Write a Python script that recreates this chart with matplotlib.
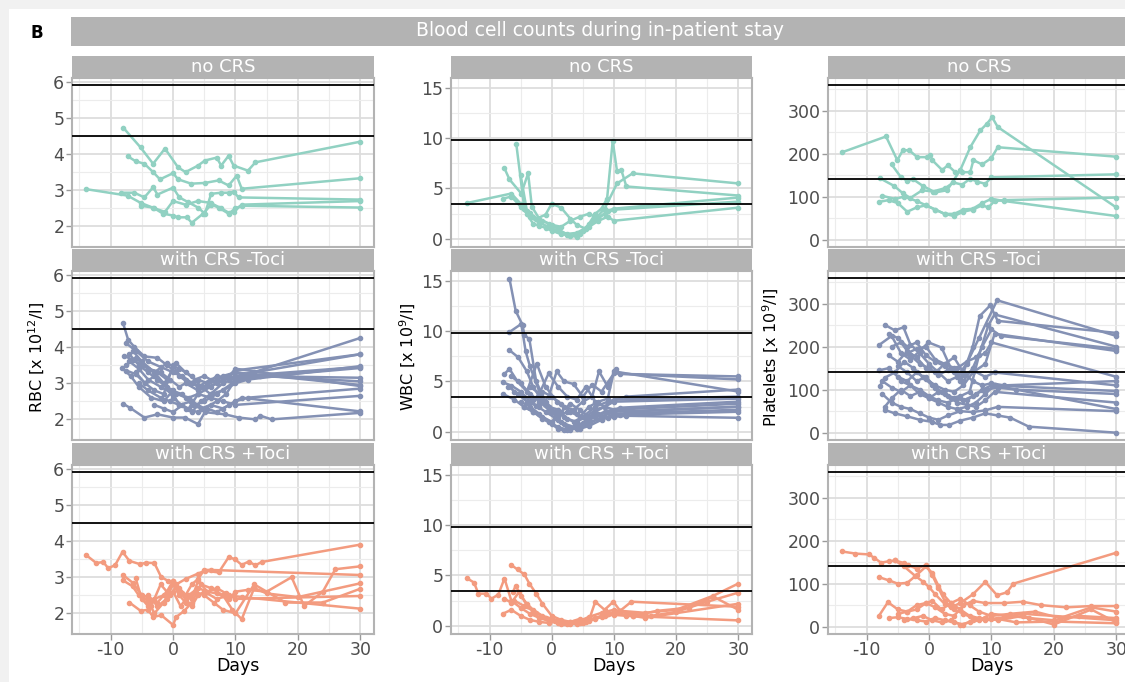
import matplotlib
matplotlib.use("Agg")
import matplotlib.pyplot as plt
from matplotlib.patches import Rectangle
from matplotlib.ticker import FixedLocator

plt.rcParams["font.family"] = ["DejaVu Sans"]
plt.rcParams["axes.unicode_minus"] = False

# ---------------------------------------------------------------- data
groups = ["no CRS", "with CRS -Toci", "with CRS +Toci"]
group_colors = ["#91D1C2", "#8491B4", "#F39B7F"]
measures = ["RBC", "WBC", "Platelets"]
measure_labels = [r"RBC [x 10$^{12}$/l]", r"WBC [x 10$^{9}$/l]", r"Platelets [x 10$^{9}$/l]"]
ref_rbc = [4.5, 5.9]
ref_wbc = [3.5, 9.8]
ref_plt = [140, 360]

# RBC, no CRS
rbc_no_crs_days = [
    [-14, -7.3, -5.2, -3, -1.3, 0, 2, 4, 6, 7.7, 8.9, 9.7, 11, 30],
    [-8, -5.2, -3.2, -1.3, 0.8, 2, 4, 5.1, 7, 7.7, 8.9, 9.7, 12, 13.2, 30],
    [-7.3, -6, -4.6, -3.2, -2.1, 0, 0.8, 2.9, 5.1, 7.3, 8.9, 10.2, 11, 30],
    [-8.3, -6.2, -4.6, -3.2, -2.5, 0, 1, 2.4, 4, 5.1, 6.1, 7.7, 9, 9.7, 10.5, 30],
    [-5.2, -3.2, -1.6, 0, 0.8, 2.2, 3, 4.8, 6.1, 7.3, 8.9, 10, 11, 30],
]
rbc_no_crs_vals = [
    [3.03, 2.85, 2.65, 2.5, 2.4, 2.7, 2.6, 2.7, 2.65, 2.5, 2.38, 2.4, 2.6, 2.7],
    [4.73, 4.18, 3.73, 4.15, 3.63, 3.5, 3.68, 3.82, 3.9, 3.68, 3.95, 3.68, 3.54, 3.77, 4.34],
    [3.94, 3.8, 3.73, 3.5, 3.3, 3.47, 3.3, 3.18, 3.2, 3.27, 3.13, 3.4, 3.04, 3.33],
    [2.93, 2.93, 2.8, 3.08, 2.88, 3.07, 2.8, 2.67, 2.52, 2.35, 2.9, 2.93, 2.93, 2.96, 2.8, 2.74],
    [2.57, 2.52, 2.35, 2.3, 2.25, 2.25, 2.1, 2.35, 2.6, 2.52, 2.35, 2.5, 2.57, 2.52],
]

# RBC, with CRS -Toci
rbc_minus_days = [
    [-8, -7.2, -6.2, -4.6, -2.5, -1, 0.5, 2, 4, 6, 8, 10, 12, 30],
    [-7.5, -6, -4, -2, 0, 1.5, 3, 5, 7, 9, 10, 30],
    [-7.8, -6.5, -5, -3, -1, 1, 3, 4.5, 6, 8, 11, 30],
    [-8.2, -6.8, -5.5, -3.5, -1.5, 0, 2, 3.5, 5, 7, 9.5, 12, 30],
    [-7, -5.5, -4, -2, 0, 1, 3, 5, 7, 8.5, 10, 14, 30],
    [-7.5, -6, -4.5, -3, -1, 0.5, 2.5, 4, 6, 8, 10, 30],
    [-8, -6.9, -4.6, -2.5, 0, 1.9, 4, 5.1, 8.3, 10.5, 13.2, 14, 15.8, 30],
    [-6.5, -5, -3, -1.5, 0, 2, 4, 5.5, 7, 9, 11, 30],
    [-7, -5.5, -4, -2.5, -0.5, 1.5, 3, 4.5, 6, 8, 10, 12, 30],
    [-6, -4.5, -3, -1.5, 0, 1, 2.5, 4, 5.5, 7, 9, 11, 30],
    [-5.5, -4, -2, -0.5, 1, 2.5, 4, 6, 8, 10, 30],
    [-4, -2.5, -1, 0.5, 2, 3.5, 5, 7, 9, 10, 30],
    [-3, -1.5, 0, 1.5, 3, 4.5, 6, 8, 10, 12, 30],
    [-7.5, -6, -4, -2, -0.5, 1, 2, 4, 7, 10, 13, 30],
]
rbc_minus_vals = [
    [4.65, 4.2, 4.0, 3.74, 3.7, 3.5, 3.3, 3.1, 2.9, 3.1, 3.2, 3.3, 3.25, 4.25],
    [4.1, 3.9, 3.6, 3.45, 3.3, 3.2, 3.0, 2.9, 3.1, 3.2, 3.35, 3.8],
    [3.75, 3.65, 3.5, 3.3, 3.55, 3.4, 3.2, 2.9, 2.7, 3.0, 3.2, 3.45],
    [3.42, 3.2, 2.9, 2.6, 2.5, 2.8, 2.6, 2.4, 2.5, 2.7, 3.0, 3.15, 3.42],
    [3.6, 3.4, 3.1, 2.9, 2.7, 2.4, 2.5, 2.3, 2.5, 2.7, 3.1, 3.2, 3.05],
    [3.35, 3.25, 3.0, 3.2, 2.9, 2.7, 2.6, 2.7, 2.9, 3.1, 3.3, 2.95],
    [2.43, 2.32, 2.05, 2.14, 2.05, 2.05, 1.87, 2.2, 2.14, 2.05, 2.0, 2.1, 2.0, 2.18],
    [3.9, 3.6, 3.3, 3.0, 2.6, 2.3, 2.2, 2.3, 2.2, 2.4, 2.6, 2.22],
    [3.8, 3.5, 3.3, 3.1, 2.8, 2.7, 2.4, 2.3, 2.4, 2.3, 2.5, 2.6, 2.85],
    [3.3, 3.0, 2.8, 2.7, 3.5, 3.2, 3.0, 3.1, 3.0, 3.2, 3.1, 3.2, 3.15],
    [3.0, 2.8, 2.6, 2.5, 2.4, 2.3, 2.7, 2.6, 2.5, 2.4, 2.65],
    [3.4, 3.3, 3.1, 3.55, 3.3, 3.1, 3.2, 3.0, 3.2, 3.4, 2.92],
    [2.4, 2.3, 2.2, 2.4, 2.2, 2.5, 2.7, 2.8, 3.0, 3.1, 3.47],
    [3.5, 3.7, 3.4, 3.3, 3.1, 2.9, 3.0, 2.8, 3.0, 3.2, 3.3, 3.8],
]

# RBC, with CRS +Toci
rbc_plus_days = [
    [-14, -12.3, -11.2, -10.4, -9.3, -8.1, -7, -5.3, -4.3, -3, -1.9, -0.8, 0.5, 2, 4,
     5.1, 7.3, 8.9, 9.9, 11, 12.1, 13.2, 14.2, 30],
    [-8.1, -6.5, -5, -4, -2.5, -1, 0, 1, 2, 3, 4, 5, 6, 30],
    [-8.1, -6.5, -5.5, -4, -3, -1.5, 0, 1.2, 2.5, 4, 5.5, 7, 9, 10, 12, 15, 19, 21, 24, 26, 30],
    [-7, -5.2, -4, -3.2, -1.9, 0, 0.5, 1.8, 3, 4.5, 6, 8, 9.5, 11, 13, 15, 20, 30],
    [-6, -5.2, -4, -3, -1.5, 0, 1, 2, 3.5, 5, 6.5, 8, 10, 13, 18, 24, 30],
    [-5, -3.5, -2, -0.5, 0.5, 1.5, 3, 4, 5.5, 7, 8.5, 10, 30],
    [-4, -2.5, -1, 0, 1, 2, 3, 4, 5, 7, 9, 11, 30],
]
rbc_plus_vals = [
    [3.62, 3.39, 3.42, 3.25, 3.33, 3.7, 3.45, 3.36, 3.4, 3.39, 3.0, 2.9, 2.8, 2.95, 3.1,
     3.18, 3.13, 3.55, 3.5, 3.34, 3.43, 3.33, 3.42, 3.9],
    [3.07, 2.85, 2.5, 2.45, 2.3, 2.6, 2.9, 2.7, 2.5, 2.8, 2.95, 3.2, 3.2, 3.06],
    [2.92, 2.75, 2.5, 2.2, 2.4, 2.5, 2.6, 2.2, 2.5, 2.7, 2.6, 2.55, 2.4, 2.6, 2.65, 2.6, 3.0, 2.2, 2.6, 3.22, 3.3],
    [2.3, 2.07, 2.1, 1.9, 1.95, 1.68, 1.9, 2.07, 2.3, 2.8, 2.7, 2.5, 2.1, 1.84, 2.7, 2.55, 2.45, 2.83],
    [2.97, 2.5, 2.35, 2.0, 2.3, 2.8, 2.5, 2.3, 2.6, 2.5, 2.3, 2.1, 2.0, 2.8, 2.3, 2.3, 2.68],
    [2.4, 2.2, 2.8, 2.5, 2.75, 2.55, 2.4, 2.9, 2.6, 2.7, 2.55, 2.4, 2.48],
    [2.5, 2.2, 2.4, 2.9, 2.6, 2.4, 2.2, 2.5, 2.6, 2.4, 2.5, 2.45, 2.13],
]

# WBC, no CRS
wbc_no_crs_days = [
    [-13.7, -6.5, -5, -4, -3, -2, -1, 0, 1.5, 3, 4.5, 6, 7.5, 9, 10, 30],
    [-7.6, -6.8, -4.9, -3.8, -3.2, -2, -0.5, 1, 2.5, 4, 5, 6, 7, 8, 8.9, 9.8, 10.5, 11.2, 12, 30],
    [-5.7, -4.4, -3.5, -2.5, -1, 0, 1.5, 3, 4, 5.5, 7, 8.5, 10.5, 13, 30],
    [-7.8, -6.5, -5, -3.5, -2, -0.5, 1, 2.5, 4, 5.5, 7, 8.5, 10, 30],
    [-5, -4, -3, -1.5, 0, 1.5, 3, 4.5, 6, 7.5, 9, 10, 30],
]
wbc_no_crs_vals = [
    [3.55, 4.5, 3.5, 2.5, 1.5, 1.3, 1.1, 0.8, 0.5, 0.3, 0.5, 1.2, 1.8, 2.2, 1.8, 3.1],
    [7.0, 5.9, 4.5, 6.5, 3.2, 2.0, 1.5, 1.0, 0.4, 0.2, 0.8, 1.5, 2.5, 3.0, 4.0, 9.7, 6.7, 6.8, 5.2, 4.3],
    [9.4, 3.0, 2.6, 2.0, 2.4, 3.5, 3.1, 2.0, 1.4, 1.0, 2.0, 3.0, 5.5, 6.5, 5.5],
    [4.0, 4.2, 3.2, 2.2, 1.6, 1.2, 0.8, 0.5, 0.6, 1.1, 1.9, 2.5, 2.9, 3.7],
    [6.3, 2.8, 2.2, 1.8, 1.4, 1.2, 1.8, 2.2, 2.5, 2.0, 2.8, 3.0, 4.1],
]

# WBC, with CRS -Toci
wbc_minus_days = [
    [-6.8, -5.8, -4.7, -4.4, -3.6, -2.5, -1, 0.5, 2, 3.5, 5, 7, 9, 12, 30],
    [-6.8, -4.9, -4.2, -3.5, -2, -0.5, 1, 2.5, 4, 6, 8, 10, 30],
    [-6.8, -5.4, -4, -3, -2, -1, 0, 1.5, 3, 4.5, 6, 8, 10, 30],
    [-7.6, -6.8, -5.5, -4, -2.4, -1, 0.8, 2, 3.5, 5, 6.5, 7.6, 9, 10.3, 11, 30],
    [-7.8, -6.5, -5, -3.5, -2, -0.5, 0.8, 2, 3.5, 5, 6.5, 8, 10, 30],
    [-7.8, -6, -4.5, -3, -1.5, 0, 1, 2, 3, 4.5, 6, 8, 10, 12, 30],
    [-7, -5.5, -4, -2.5, -1, 0.5, 2, 3.5, 5, 7, 9, 11, 30],
    [-6.5, -5, -3.5, -2, -0.5, 1, 2.5, 4, 5.5, 7, 8.5, 10, 30],
    [-6, -4.5, -3, -1.5, 0, 1.5, 3, 4.5, 6, 7.5, 9, 10, 30],
    [-5, -3.5, -2, -0.5, 1, 2.5, 4, 5.5, 7, 8.5, 10, 30],
    [-4.5, -3, -1.5, 0, 1.5, 3, 4.5, 6, 7.5, 9, 11, 30],
    [-3.5, -2, -0.5, 1, 2.5, 4, 5.5, 7, 8.5, 10, 30],
    [-2, -0.5, 1, 2.5, 4, 5.5, 7, 8.5, 10, 12, 30],
]
wbc_minus_vals = [
    [15.2, 12.0, 10.6, 9.6, 9.2, 5.0, 3.0, 2.0, 1.5, 1.0, 1.5, 2.5, 3.0, 3.5, 4.2],
    [9.9, 10.7, 8.0, 6.5, 4.0, 2.5, 1.2, 0.6, 0.3, 0.8, 1.5, 2.0, 2.5],
    [8.1, 7.4, 6.0, 4.5, 3.5, 2.8, 2.0, 1.0, 0.5, 0.3, 0.6, 1.2, 1.8, 2.2],
    [5.75, 6.25, 5.0, 4.0, 6.75, 4.5, 3.0, 2.5, 2.2, 3.0, 3.5, 6.0, 4.5, 6.2, 5.75, 5.5],
    [4.9, 4.6, 4.0, 3.0, 2.5, 3.5, 6.0, 5.0, 4.75, 3.5, 4.7, 4.0, 5.8, 5.2],
    [3.75, 3.2, 2.5, 2.0, 1.3, 0.8, 0.3, 0.15, 0.2, 0.5, 1.0, 1.3, 1.5, 1.6, 1.4],
    [4.5, 3.8, 3.0, 2.6, 2.0, 1.4, 0.8, 0.5, 0.9, 1.5, 2.0, 2.4, 3.0],
    [5.5, 4.8, 3.8, 3.0, 2.2, 1.5, 2.0, 1.8, 1.2, 2.0, 2.5, 3.0, 3.3],
    [4.0, 3.5, 3.2, 4.0, 3.5, 2.8, 2.0, 1.5, 2.5, 3.0, 3.3, 6.0, 4.0],
    [3.0, 2.5, 1.8, 1.0, 0.5, 0.2, 0.4, 0.9, 1.6, 2.0, 2.2, 2.8],
    [2.5, 2.0, 1.5, 1.0, 2.0, 2.8, 2.2, 1.5, 1.8, 1.4, 1.7, 2.0],
    [4.5, 3.8, 5.8, 4.5, 3.5, 3.2, 4.5, 3.0, 2.5, 3.2, 3.5],
    [3.2, 2.5, 2.2, 1.3, 1.0, 1.5, 2.2, 2.5, 2.2, 2.0, 2.5],
]

# WBC, with CRS +Toci
wbc_plus_days = [
    [-13.7, -12.5, -11.8, -10.5, -9.7, -8.6, -7.6, -6.5, -5, -3.5, -2, -0.5, 1, 2.5, 4,
     5.5, 7, 8.5, 10, 12, 30],
    [-6.6, -5.5, -4.4, -3.6, -2.5, -1.5, 0, 1.5, 3, 4.5, 6, 7, 8.5, 9.9, 11, 12.8, 30],
    [-7.9, -6.5, -5, -3.5, -2, -0.5, 1, 2.5, 4, 5.5, 7, 9, 11, 13, 15, 30],
    [-6.2, -5.8, -5, -4, -3, -1.5, 0, 1.5, 3, 4.5, 6, 8, 10, 13, 16, 20, 25, 30],
    [-7.6, -6.5, -5.2, -4, -2.5, -1, 0.5, 2, 3.5, 5, 7, 9, 11, 15, 20, 26, 30],
    [-6, -4.5, -3, -1.5, 0, 1.5, 3, 4.5, 6, 8, 10, 13, 17, 22, 26, 30],
]
wbc_plus_vals = [
    [4.75, 4.3, 3.2, 3.2, 2.7, 3.1, 4.7, 2.5, 1.8, 1.2, 0.8, 0.5, 0.3, 0.2, 0.3,
     0.5, 0.8, 1.0, 1.1, 1.0, 0.55],
    [6.07, 5.6, 5.1, 4.2, 3.2, 2.2, 1.0, 0.6, 0.4, 0.3, 0.6, 2.4, 1.6, 2.4, 1.5, 2.4, 1.9],
    [1.2, 1.6, 1.0, 0.6, 0.4, 0.3, 0.5, 0.3, 0.2, 0.4, 0.8, 1.2, 1.5, 1.0, 0.8, 2.2],
    [3.4, 4.0, 3.0, 2.2, 1.6, 1.0, 0.7, 0.4, 0.2, 0.5, 0.9, 1.3, 1.6, 1.2, 1.0, 1.4, 2.4, 3.3],
    [2.7, 2.3, 3.4, 2.0, 1.3, 0.8, 0.5, 0.3, 0.4, 0.3, 0.7, 1.2, 1.5, 1.3, 1.6, 3.0, 4.2],
    [2.5, 2.0, 1.5, 0.9, 0.6, 0.2, 0.4, 0.7, 0.5, 0.9, 1.3, 1.0, 1.5, 1.8, 2.9, 1.6],
]

# Platelets, no CRS
plt_no_crs_days = [
    [-14, -6.9, -5.1, -4.2, -3.2, -1.9, -0.3, 0.2, 0.5, 2.1, 3, 4.2, 5.3, 6.6, 7.1, 8.5, 10, 11, 30],
    [-6, -4.5, -3.5, -2.5, -1, 1, 2.9, 5, 6.6, 8.2, 9.3, 10.1, 11, 30],
    [-7.9, -5.6, -4.2, -3, -1.1, 0.6, 2.6, 3.9, 5.3, 6.6, 7.7, 9, 10, 30],
    [-7.5, -5.5, -4, -2, -0.5, 1, 2.5, 4, 5.5, 7, 8.5, 9.5, 10.5, 12, 30],
    [-8, -6.5, -5, -3.5, -2, -0.5, 1, 2.5, 4, 5.5, 7, 8.5, 10, 12, 30],
]
plt_no_crs_vals = [
    [203, 240, 185, 208, 208, 192, 192, 198, 185, 162, 173, 157, 157, 157, 185, 175, 190, 215, 193],
    [175, 145, 137, 140, 125, 110, 115, 162, 215, 254, 270, 285, 262, 75],
    [143, 125, 108, 97, 115, 112, 120, 133, 128, 142, 135, 130, 145, 152],
    [102, 95, 100, 90, 80, 70, 60, 55, 65, 70, 80, 75, 90, 92, 98],
    [88, 92, 85, 65, 75, 80, 70, 60, 60, 70, 72, 85, 95, 90, 55],
]

# Platelets, with CRS -Toci
plt_minus_days = [
    [-7, -5.5, -4.1, -3, -1.5, 0, 1.5, 3, 4.5, 6, 8, 10.9, 30],
    [-8, -6, -4.5, -3, -1.5, -0.1, 2, 3.5, 5, 7, 8.1, 9.8, 11, 30],
    [-7.9, -7.1, -5.5, -4, -2.5, -1, 0.5, 2, 3.5, 5, 6.5, 8, 9.5, 10.5, 30],
    [-7.1, -5.5, -3.5, -1.5, 0.5, 1.8, 3.2, 5, 7, 9, 11, 13, 16, 30],
    [-7.1, -6, -4.5, -3, -1.5, 0, 1.5, 3, 4.5, 6, 7.5, 9, 10.5, 30],
    [-6.5, -5, -3.5, -2, -0.5, 1, 2.5, 4, 5.5, 7, 8.5, 10, 11.5, 30],
    [-8, -6.5, -5, -3.5, -2, -0.5, 1, 2.5, 4, 5.5, 7, 9, 10.5, 30],
    [-7.5, -6, -4.5, -3, -1.5, 0, 1.5, 3, 4.5, 6, 7.5, 9, 11, 14, 30],
    [-6, -4.5, -3, -1.5, 0, 1.5, 3, 4.5, 6, 7.5, 9, 10, 30],
    [-5, -3.5, -2, -0.5, 1, 2.5, 4, 5.5, 7, 8.5, 10, 30],
    [-4.5, -3, -1.5, 0, 1.5, 3, 4.5, 6, 7.5, 9, 10.5, 30],
    [-3.5, -2, -0.5, 1, 2.5, 4, 5.5, 7, 8.5, 10, 12, 30],
    [-7.5, -6, -4.5, -3, -1.5, 0, 1.5, 3, 5, 7, 9, 11, 30],
    [-6.5, -5, -3.5, -2, -0.5, 1, 2.5, 4, 5.5, 7, 9, 10.5, 30],
]
plt_minus_vals = [
    [250, 238, 245, 205, 185, 160, 140, 120, 130, 160, 220, 308, 225],
    [204, 225, 185, 170, 190, 210, 198, 150, 120, 200, 271, 296, 260, 232],
    [108, 128, 140, 165, 150, 130, 110, 95, 80, 85, 95, 180, 250, 275, 200],
    [53, 45, 38, 30, 25, 18, 18, 28, 35, 45, 40, 35, 14, 0],
    [60, 80, 100, 85, 95, 80, 70, 60, 55, 60, 70, 90, 110, 55],
    [180, 165, 190, 175, 150, 140, 160, 150, 120, 150, 200, 240, 225, 195],
    [145, 150, 130, 120, 140, 125, 110, 100, 95, 110, 140, 160, 230, 190],
    [120, 105, 95, 110, 100, 85, 75, 70, 80, 75, 90, 100, 105, 100, 90],
    [200, 210, 180, 160, 150, 135, 145, 150, 165, 175, 185, 210, 130],
    [155, 140, 120, 130, 105, 90, 80, 75, 85, 100, 110, 97],
    [120, 110, 90, 80, 95, 85, 70, 65, 60, 75, 95, 70],
    [185, 195, 200, 170, 160, 175, 140, 120, 110, 115, 110, 120],
    [90, 70, 60, 55, 45, 35, 30, 40, 50, 48, 52, 60, 50],
    [230, 220, 200, 210, 180, 165, 155, 140, 135, 145, 130, 140, 110],
]

# Platelets, with CRS +Toci
plt_plus_days = [
    [-14, -11.8, -9.6, -8.8, -7.7, -6.5, -5.5, -4, -3.3, -2, -0.5, 0.5, 1.5, 2.5, 3.5,
     5, 7, 9, 10.9, 12.5, 13.5, 30],
    [-8, -6.5, -5, -3.5, -2, -0.5, 0.5, 1.5, 2.2, 3.5, 5, 6.5, 8, 10, 12, 15, 30],
    [-5.5, -4, -2.3, -1, 0, 1, 2.5, 4, 5.5, 7, 9, 11, 14, 20, 30],
    [-8, -6.6, -5, -3.5, -2, -0.5, 1, 2.5, 4, 5.5, 7, 9, 12, 15, 18, 22, 26, 30],
    [-6.5, -5, -3.5, -2, -0.5, 1, 2.5, 4, 5.5, 7, 9, 11, 15, 20, 26, 30],
    [-5, -3.5, -2, -0.5, 0.5, 2, 3.5, 5, 6.5, 8, 10, 13, 17, 21, 26, 30],
    [-4, -2.5, -1, 0.5, 2, 3.5, 5, 6.5, 8, 10, 13, 16, 20, 24, 30],
]
plt_plus_vals = [
    [175, 170, 168, 160, 149, 152, 154, 148, 143, 135, 143, 120, 90, 60, 45,
     55, 75, 104, 73, 80, 100, 172],
    [115, 108, 100, 102, 120, 140, 125, 95, 76, 55, 40, 25, 20, 18, 22, 30, 15],
    [154, 140, 119, 105, 92, 75, 53, 40, 30, 20, 15, 18, 10, 12, 8],
    [26, 57, 40, 35, 50, 55, 45, 30, 25, 50, 60, 55, 55, 58, 50, 45, 48, 48],
    [20, 22, 18, 15, 12, 20, 15, 10, 5, 15, 20, 15, 25, 5, 40, 10],
    [30, 35, 40, 55, 60, 40, 55, 65, 50, 35, 25, 30, 35, 20, 45, 35],
    [15, 20, 25, 15, 10, 15, 5, 10, 15, 30, 25, 20, 15, 25, 20],
]

# ---------------------------------------------------------------- layout
W, H = 1125, 682
fig = plt.figure(figsize=(W / 100, H / 100), dpi=100)
fig.patch.set_facecolor("#f1f1f1")
fig.add_artist(Rectangle((9 / W, 0), 1, 1 - 9 / H, transform=fig.transFigure,
                         facecolor="white", edgecolor="none", zorder=-10))


def px_box(x0, y0, x1, y1):
    return [x0 / W, 1 - y1 / H, (x1 - x0) / W, (y1 - y0) / H]


def plain_box(ax, color):
    ax.set_facecolor(color)
    ax.set_xticks([])
    ax.set_yticks([])
    for s in ax.spines.values():
        s.set_visible(False)


# title banner
banner = fig.add_axes(px_box(71, 17, 1130, 46))
plain_box(banner, "#b3b3b3")
fig.text(600 / W, 1 - 31 / H, "Blood cell counts during in-patient stay", color="white",
         ha="center", va="center", fontsize=13.5)
fig.text(37 / W, 1 - 33 / H, "B", fontsize=12, fontweight="bold", ha="center", va="center")

col_x = [(72, 374), (451, 752), (828, 1130)]
row_y = [(56, 77, 78, 247), (249, 270, 271, 440), (443, 464, 465, 634)]

series = {
    "RBC": [(rbc_no_crs_days, rbc_no_crs_vals), (rbc_minus_days, rbc_minus_vals),
            (rbc_plus_days, rbc_plus_vals)],
    "WBC": [(wbc_no_crs_days, wbc_no_crs_vals), (wbc_minus_days, wbc_minus_vals),
            (wbc_plus_days, wbc_plus_vals)],
    "Platelets": [(plt_no_crs_days, plt_no_crs_vals), (plt_minus_days, plt_minus_vals),
                  (plt_plus_days, plt_plus_vals)],
}
refs = {"RBC": ref_rbc, "WBC": ref_wbc, "Platelets": ref_plt}
ylims = {"RBC": (1.43, 6.10), "WBC": (-0.8, 15.95), "Platelets": (-17, 376)}
ymajor = {"RBC": [2, 3, 4, 5, 6], "WBC": [0, 5, 10, 15], "Platelets": [0, 100, 200, 300]}
yminor = {"RBC": [2.5, 3.5, 4.5, 5.5], "WBC": [2.5, 7.5, 12.5],
          "Platelets": [50, 150, 250, 350]}
xmajor = [-10, 0, 10, 20, 30]
xminor = [-15, -5, 5, 15, 25]
ylabel_x = [37, 408, 771]
days_x = [238, 614, 992]

for ci, m in enumerate(measures):
    x0, x1 = col_x[ci]
    for ri, g in enumerate(groups):
        st0, st1, p0, p1 = row_y[ri]
        # facet strip
        sax = fig.add_axes(px_box(x0, st0, x1, st1))
        plain_box(sax, "#b3b3b3")
        sax.text(0.5, 0.48, g, color="white", fontsize=13, ha="center", va="center",
                 transform=sax.transAxes)
        # panel
        ax = fig.add_axes(px_box(x0, p0, x1, p1))
        ax.set_facecolor("white")
        ax.set_xlim(-16.2, 32.2)
        ax.set_ylim(*ylims[m])
        ax.xaxis.set_major_locator(FixedLocator(xmajor))
        ax.xaxis.set_minor_locator(FixedLocator(xminor))
        ax.yaxis.set_major_locator(FixedLocator(ymajor[m]))
        ax.yaxis.set_minor_locator(FixedLocator(yminor[m]))
        ax.grid(which="major", color="#dddddd", lw=1.3, zorder=0)
        ax.grid(which="minor", color="#ececec", lw=0.8, zorder=0)
        ax.set_axisbelow(True)
        for s in ax.spines.values():
            s.set_color("#b3b3b3")
            s.set_linewidth(1.5)
        ax.tick_params(axis="y", which="major", length=4, width=1.0, color="#9a9a9a",
                       labelsize=12.5, labelcolor="#4d4d4d", pad=1.5)
        ax.tick_params(which="minor", length=0)
        if ri == 2:
            ax.tick_params(axis="x", which="major", length=4, width=1.0, color="#9a9a9a",
                           labelsize=12.5, labelcolor="#4d4d4d", pad=1)
        else:
            ax.tick_params(axis="x", which="major", length=0, labelbottom=False)
        days_list, vals_list = series[m][ri]
        for d, v in zip(days_list, vals_list):
            ax.plot(d, v, color=group_colors[ri], lw=1.8, marker="o", ms=3.0,
                    solid_joinstyle="round", zorder=2)
        for r in refs[m]:
            ax.axhline(r, color="black", lw=1.3, zorder=3)
    fig.text(ylabel_x[ci] / W, 1 - 357 / H, measure_labels[ci], rotation=90,
             ha="center", va="center", fontsize=11.5, color="black")
    fig.text(days_x[ci] / W, 1 - 666 / H, "Days", ha="center", va="center",
             fontsize=12.5, color="black")

fig.savefig("out.png", dpi=100, facecolor=fig.get_facecolor())
